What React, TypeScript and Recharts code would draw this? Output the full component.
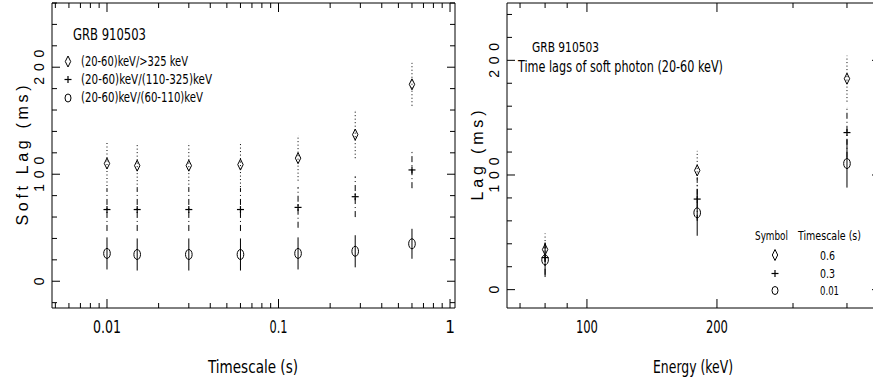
import React from "react";
import { ScatterChart, Scatter, XAxis, YAxis, ErrorBar } from "recharts";

// left panel: lag vs timescale, one series per hard band
const timescales = [0.01, 0.015, 0.03, 0.06, 0.13, 0.28, 0.6];
const lagHard = [110, 108, 108, 109, 115, 137, 184];
const errHard = [21, 21, 21, 21, 21, 22, 20];
const lagMid = [67, 67, 67, 67, 69, 79, 104];
const errMid = [20, 20, 20, 20, 19, 19, 17];
const lagLow = [26, 25, 25, 25, 26, 28, 35];
const errLow = [15, 15, 15, 15, 15, 15, 14];

// right panel: lag vs energy, one series per timescale
const energies = [80, 180, 400];
const lag06 = [35, 104, 184];
const err06 = [14, 17, 20];
const lag03 = [28, 79, 137];
const err03 = [15, 19, 22];
const lag001 = [26, 67, 110];
const err001 = [15, 20, 21];

const legendLeft = ["(20-60)keV/>325 keV", "(20-60)keV/(110-325)keV", "(20-60)keV/(60-110)keV"];
const legendRight = ["0.6", "0.3", "0.01"];

const xTicksLeft = [
  0.005, 0.006, 0.007, 0.008, 0.009, 0.01,
  0.02, 0.03, 0.04, 0.05, 0.06, 0.07, 0.08, 0.09, 0.1,
  0.2, 0.3, 0.4, 0.5, 0.6, 0.7, 0.8, 0.9, 1,
];
const xMajorLeft = [0.01, 0.1, 1];
const xTicksRight = [70, 80, 90, 100, 200, 300, 400];
const xMajorRight = [100, 200];
const yTicksLeft = [-20, 0, 20, 40, 60, 80, 100, 120, 140, 160, 180, 200, 220, 240, 260];
const yTicksRight = [0, 20, 40, 60, 80, 100, 120, 140, 160, 180, 200, 220, 240];
const yMajor = [0, 100, 200];

const NARROW = '"Liberation Sans Narrow", "DejaVu Sans Condensed", "Arial Narrow", sans-serif';
const REG = '"Liberation Sans", Arial, sans-serif';
const INK = "#000";

// widths the Hershey-ish labels take in the picture
const TICK_LEN: Record<string, number> = { "0.01": 28, "0.1": 18, "100": 22, "200": 22 };

const pts = (xs: number[], ys: number[], es: number[]) =>
  xs.map((x, i) => ({ x, y: ys[i], err: es[i] }));

const Diamond = ({ cx, cy }: any) => (
  <polygon
    points={`${cx},${cy - 5.5} ${cx + 2.7},${cy} ${cx},${cy + 5.5} ${cx - 2.7},${cy}`}
    fill="none" stroke={INK} strokeWidth={1}
  />
);
const Plus = ({ cx, cy }: any) => (
  <g stroke={INK} strokeWidth={1.2}>
    <line x1={cx - 3.5} x2={cx + 3.5} y1={cy} y2={cy} />
    <line x1={cx} x2={cx} y1={cy - 3.5} y2={cy + 3.5} />
  </g>
);
const Ring = ({ cx, cy, small }: any) => (
  <ellipse cx={cx} cy={cy} rx={small ? 3 : 3.3} ry={small ? 4 : 5} fill="none" stroke={INK} strokeWidth={1} />
);

// narrow text: squeeze glyphs to the width seen in the reference
const T = ({ w, children, ...rest }: any) => (
  <text {...rest} textLength={w} lengthAdjust="spacingAndGlyphs">{children}</text>
);

function xTick(top: number, majors: number[]) {
  return (p: any) => {
    const { x, y, payload } = p;
    const v = payload.value;
    const major = majors.includes(v);
    const len = major ? 9 : 5;
    const s = String(v);
    return (
      <g>
        <line x1={x} x2={x} y1={y} y2={y - len} stroke={INK} />
        <line x1={x} x2={x} y1={top} y2={top + len} stroke={INK} />
        {major && (
          <text x={x} y={y + 25} textAnchor="middle" fill={INK} fontFamily={NARROW} fontSize={17}
            textLength={TICK_LEN[s]} lengthAdjust={TICK_LEN[s] ? "spacingAndGlyphs" : undefined}>
            {s}
          </text>
        )}
      </g>
    );
  };
}

function yTick(right: number) {
  return (p: any) => {
    const { x, y, payload } = p;
    const v = payload.value;
    const major = yMajor.includes(v);
    const len = major ? 8 : 5;
    const bx = x - 7.5;
    const s = String(v);
    return (
      <g>
        <line x1={x} x2={x + len} y1={y} y2={y} stroke={INK} />
        <line x1={right} x2={right - len} y1={y} y2={y} stroke={INK} />
        {major && (
          <text x={bx} y={y} transform={`rotate(-90 ${bx} ${y})`} textAnchor="middle"
            fill={INK} fontFamily={REG} fontSize={14}
            textLength={s.length > 1 ? 35 : undefined} lengthAdjust="spacing">
            {s}
          </text>
        )}
      </g>
    );
  };
}

function Panel({ width, margin, xDom, yDom, xTicks, xMajors, yTicks, series }: any) {
  // axes are 1px thick boxes, so the plot edges sit one pixel inside the margins
  const top = margin.top + 1;
  const right = width - margin.right - 1;
  return (
    <ScatterChart width={width} height={385} margin={margin}>
      <XAxis dataKey="x" type="number" scale="log" domain={xDom} allowDataOverflow ticks={xTicks}
        interval={0} height={1} tickSize={0} tickMargin={0} tickLine={false}
        axisLine={{ stroke: INK }} tick={xTick(top, xMajors)} />
      <YAxis dataKey="y" type="number" domain={yDom} allowDataOverflow ticks={yTicks}
        interval={0} width={1} tickSize={0} tickMargin={0} tickLine={false}
        axisLine={{ stroke: INK }} tick={yTick(right)} />
      <XAxis xAxisId="top" orientation="top" type="number" domain={[0, 1]} height={1}
        tick={false} tickLine={false} axisLine={{ stroke: INK }} />
      <YAxis yAxisId="right" orientation="right" type="number" domain={[0, 1]} width={1}
        tick={false} tickLine={false} axisLine={{ stroke: INK }} />
      {series.map((s: any) => (
        <Scatter key={s.name} name={s.name} data={s.data} isAnimationActive={false} shape={s.shape}>
          <ErrorBar dataKey="err" direction="y" width={0} stroke={INK} strokeWidth={1}
            strokeDasharray={s.dash} isAnimationActive={false} />
        </Scatter>
      ))}
    </ScatterChart>
  );
}

const DOT = "1 2.5";
const DASHDOT = "6 3 1 3";

export default function App() {
  const leftSeries = [
    { name: ">325", data: pts(timescales, lagHard, errHard), shape: Diamond, dash: DOT },
    { name: "110-325", data: pts(timescales, lagMid, errMid), shape: Plus, dash: DASHDOT },
    { name: "60-110", data: pts(timescales, lagLow, errLow), shape: Ring, dash: undefined },
  ];
  const rightSeries = [
    { name: "0.6", data: pts(energies, lag06, err06), shape: Diamond, dash: DOT },
    { name: "0.3", data: pts(energies, lag03, err03), shape: Plus, dash: DASHDOT },
    { name: "0.01", data: pts(energies, lag001, err001), shape: Ring, dash: undefined },
  ];
  const marks = [Diamond, Plus, Ring];
  const leftLegendW = [107, 131, 122];
  const rightLegendW = [15, 15, 19];
  return (
    <div style={{ position: "absolute", left: 0, top: 0, width: 873, height: 385, overflow: "hidden", background: "#fff" }}>
      <div style={{ position: "absolute", left: 0, top: 0 }}>
        <Panel width={462} margin={{ top: 2, right: 6, bottom: 76, left: 51 }}
          xDom={[0.00478, 1.069]} yDom={[-25, 260]} xTicks={xTicksLeft} xMajors={xMajorLeft}
          yTicks={yTicksLeft} series={leftSeries} />
      </div>
      <div style={{ position: "absolute", left: 462, top: 0 }}>
        <Panel width={420} margin={{ top: 2, right: 1, bottom: 76, left: 44 }}
          xDom={[65.3, 477]} yDom={[-16, 250]} xTicks={xTicksRight} xMajors={xMajorRight}
          yTicks={yTicksRight} series={rightSeries} />
      </div>
      <svg width={873} height={385} style={{ position: "absolute", left: 0, top: 0, pointerEvents: "none" }}>
        <g fill={INK} fontFamily={NARROW}>
          <T x={73} y={40} fontSize={15} w={73}>GRB 910503</T>
          {legendLeft.map((t, i) => {
            const M = marks[i];
            const cy = [61.5, 79.5, 98][i];
            return (
              <g key={t}>
                <M cx={68} cy={cy} small />
                <T x={81} y={[66, 84, 102][i]} fontSize={14} w={leftLegendW[i]}>{t}</T>
              </g>
            );
          })}
          <T x={208} y={373} fontSize={17} w={90}>Timescale (s)</T>
          <T x={532} y={52} fontSize={14} w={67}>GRB 910503</T>
          <T x={518} y={72} fontSize={15} w={205}>Time lags of soft photon (20-60 keV)</T>
          <T x={653} y={373} fontSize={17} w={80}>Energy (keV)</T>
          <T x={755} y={240} fontSize={12} w={33}>Symbol</T>
          <T x={798} y={240} fontSize={12} w={63}>Timescale (s)</T>
          {legendRight.map((t, i) => {
            const M = marks[i];
            return (
              <g key={t}>
                <M cx={775} cy={[255, 273.5, 290.5][i]} small />
                <T x={820} y={[260, 278, 295][i]} fontSize={13} w={rightLegendW[i]}>{t}</T>
              </g>
            );
          })}
        </g>
        <g fill={INK} fontFamily={REG} fontSize={16}>
          <text x={28} y={155.5} transform="rotate(-90 28 155.5)" textAnchor="middle"
            textLength={140} lengthAdjust="spacing">Soft Lag (ms)</text>
          <text x={483} y={155.5} transform="rotate(-90 483 155.5)" textAnchor="middle"
            textLength={90} lengthAdjust="spacing">Lag (ms)</text>
        </g>
      </svg>
    </div>
  );
}
